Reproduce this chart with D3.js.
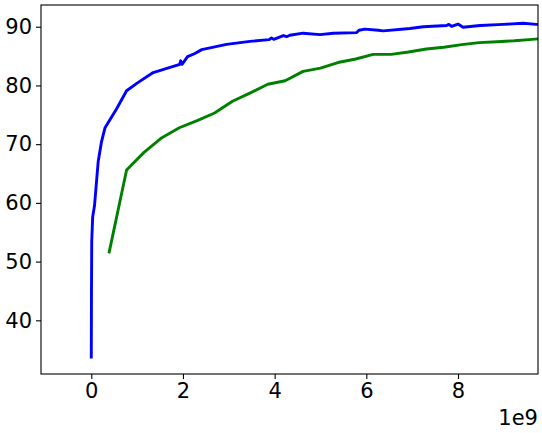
<!DOCTYPE html>
<html>
<head>
<meta charset="UTF-8">
<title></title>
<style>
  body { margin: 0; background: #fff; }
  text { font-family: "DejaVu Sans", sans-serif; }
</style>
</head>
<body>
<script src="https://cdn.jsdelivr.net/npm/d3@7"></script>
<script>
// x values in units of 1e9
var blueX = [0, 0.004, 0.01, 0.03, 0.07, 0.15, 0.22, 0.30, 0.41, 0.55, 0.77, 1.0, 1.35, 1.93, 1.95, 1.98, 2.1, 2.25, 2.41, 2.95, 3.46, 3.88, 3.93, 3.98, 4.19, 4.26, 4.33, 4.62, 4.99, 5.28, 5.79, 5.84, 5.97, 6.26, 6.37, 6.95, 7.24, 7.75, 7.8, 7.86, 8.0, 8.11, 8.48, 8.99, 9.42, 9.71, 9.9];
var blueY = [33.5, 45.0, 53.5, 57.6, 59.5, 67.0, 70.3, 72.8, 74.2, 76.0, 79.1, 80.4, 82.2, 83.6, 84.2, 83.6, 84.9, 85.4, 86.1, 87.0, 87.5, 87.8, 88.1, 87.85, 88.5, 88.3, 88.55, 88.9, 88.65, 88.9, 89.0, 89.4, 89.6, 89.4, 89.3, 89.7, 90.0, 90.2, 90.4, 90.05, 90.45, 89.9, 90.2, 90.4, 90.6, 90.4, 90.4];
var greenX = [0.385, 0.77, 1.15, 1.54, 1.92, 2.31, 2.69, 3.08, 3.46, 3.85, 4.23, 4.62, 5.0, 5.38, 5.77, 6.15, 6.54, 6.92, 7.31, 7.69, 8.08, 8.46, 8.85, 9.23, 9.62, 10.0];
var greenY = [51.4, 65.6, 68.6, 71.1, 72.8, 74.0, 75.3, 77.3, 78.7, 80.2, 80.8, 82.4, 82.95, 83.9, 84.5, 85.3, 85.3, 85.7, 86.2, 86.5, 86.95, 87.3, 87.45, 87.6, 87.85, 88.1];
var xTicks = [0, 2, 4, 6, 8];
var yTicks = [40, 50, 60, 70, 80, 90];

var W = 542, H = 433;
var m = {left: 41, right: 4, top: 5, bottom: 59};
var iw = W - m.left - m.right, ih = H - m.top - m.bottom;

var svg = d3.select('body').append('svg')
  .attr('width', W)
  .attr('height', H);

var x = d3.scaleLinear().domain([-1.097, 9.745]).range([0, iw]);
var y = d3.scaleLinear().domain([30.86, 93.7]).range([ih, 0]);

var g = svg.append('g').attr('transform', 'translate(' + m.left + ',' + m.top + ')');

g.append('clipPath').attr('id', 'clip')
  .append('rect').attr('width', iw).attr('height', ih);

var line = d3.line()
  .x(function(d) { return x(d[0]); })
  .y(function(d) { return y(d[1]); });

var blue = d3.zip(blueX, blueY);
var green = d3.zip(greenX, greenY);

g.append('path').datum(green)
  .attr('clip-path', 'url(#clip)')
  .attr('fill', 'none')
  .attr('stroke', '#008000')
  .attr('stroke-width', 2.9)
  .attr('stroke-linejoin', 'round')
  .attr('d', line);

g.append('path').datum(blue)
  .attr('clip-path', 'url(#clip)')
  .attr('fill', 'none')
  .attr('stroke', '#0000ff')
  .attr('stroke-width', 2.9)
  .attr('stroke-linejoin', 'round')
  .attr('d', line);

var xAxis = g.append('g')
  .attr('transform', 'translate(0,' + ih + ')')
  .call(d3.axisBottom(x).tickValues(xTicks).tickSize(5).tickPadding(4).tickFormat(d3.format('d')));
var yAxis = g.append('g')
  .call(d3.axisLeft(y).tickValues(yTicks).tickSize(5).tickPadding(4).tickFormat(d3.format('d')));

[xAxis, yAxis].forEach(function(a) {
  a.select('.domain').remove();
  a.selectAll('line').attr('stroke', '#000').attr('stroke-width', 1.1);
  a.selectAll('text')
    .attr('fill', '#000')
    .style('font-family', '"DejaVu Sans", sans-serif')
    .style('font-size', '21px');
});

g.append('rect')
  .attr('width', iw)
  .attr('height', ih)
  .attr('fill', 'none')
  .attr('stroke', '#000')
  .attr('stroke-width', 1.1);

g.append('text')
  .attr('x', iw)
  .attr('y', ih + 51)
  .attr('text-anchor', 'end')
  .style('font-size', '21px')
  .text('1e9');
</script>
</body>
</html>
